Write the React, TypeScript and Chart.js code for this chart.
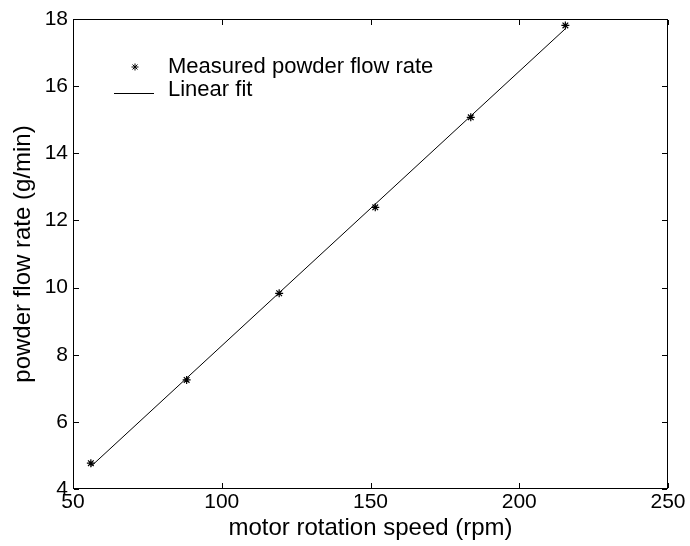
import React, { useEffect, useRef } from "react";
import { Chart, registerables } from "chart.js";

Chart.register(...registerables);

const speedRpm = [56, 88.2, 119.3, 151.6, 183.7, 215.5];
const flowRate = [4.77, 7.25, 9.83, 12.39, 15.07, 17.81];
const fitX = [56, 215.5];
const fitY = [4.67, 17.71];
const xTicks = [50, 100, 150, 200, 250];
const yTicks = [4, 6, 8, 10, 12, 14, 16, 18];
const legendLabels = ["Measured powder flow rate", "Linear fit"];

const FONT = "'Liberation Sans', Arial, Helvetica, sans-serif";

const frameAndTicks = {
  id: "frameAndTicks",
  beforeDatasetsDraw(chart: any) {
    const { ctx, chartArea: a, scales } = chart;
    ctx.save();
    ctx.strokeStyle = "#000";
    ctx.lineWidth = 1;
    ctx.strokeRect(a.left + 0.5, a.top + 0.5, a.right - a.left - 1, a.bottom - a.top - 1);
    const len = 5;
    ctx.beginPath();
    for (const v of xTicks) {
      const px = Math.round(scales.x.getPixelForValue(v)) + 0.5;
      ctx.moveTo(px, a.bottom - 1);
      ctx.lineTo(px, a.bottom - 1 - len);
      ctx.moveTo(px, a.top + 1);
      ctx.lineTo(px, a.top + 1 + len);
    }
    for (const v of yTicks) {
      const py = Math.round(scales.y.getPixelForValue(v)) + 0.5;
      ctx.moveTo(a.left + 1, py);
      ctx.lineTo(a.left + 1 + len, py);
      ctx.moveTo(a.right - 1, py);
      ctx.lineTo(a.right - 1 - len, py);
    }
    ctx.stroke();
    ctx.restore();
  },
};

const insideLegend = {
  id: "insideLegend",
  afterDraw(chart: any) {
    const { ctx, chartArea: a } = chart;
    ctx.save();
    ctx.strokeStyle = "#000";
    ctx.lineWidth = 1;
    const sx = a.left + 62;
    const sy = a.top + 48;
    const r = 3.5;
    ctx.beginPath();
    ctx.moveTo(sx - r, sy);
    ctx.lineTo(sx + r, sy);
    ctx.moveTo(sx, sy - r);
    ctx.lineTo(sx, sy + r);
    const d = r * Math.SQRT1_2;
    ctx.moveTo(sx - d, sy - d);
    ctx.lineTo(sx + d, sy + d);
    ctx.moveTo(sx - d, sy + d);
    ctx.lineTo(sx + d, sy - d);
    ctx.stroke();
    const ly = Math.round(a.top + 73.5) + 0.5;
    ctx.beginPath();
    ctx.moveTo(a.left + 41, ly);
    ctx.lineTo(a.left + 81, ly);
    ctx.stroke();
    ctx.fillStyle = "#000";
    ctx.font = `22px ${FONT}`;
    ctx.textBaseline = "middle";
    ctx.textAlign = "left";
    ctx.fillText(legendLabels[0], a.left + 95, a.top + 48);
    ctx.fillText(legendLabels[1], a.left + 95, a.top + 71);
    ctx.restore();
  },
};

export default function App() {
  const ref = useRef<HTMLCanvasElement | null>(null);
  useEffect(() => {
    if (!ref.current) return;
    const chart = new Chart(ref.current, {
      type: "scatter",
      data: {
        datasets: [
          {
            label: legendLabels[0],
            data: speedRpm.map((x, i) => ({ x, y: flowRate[i] })),
            pointStyle: "star",
            radius: 4,
            borderColor: "#000",
            backgroundColor: "#000",
            borderWidth: 1.2,
            showLine: false,
          },
          {
            label: legendLabels[1],
            data: fitX.map((x, i) => ({ x, y: fitY[i] })),
            showLine: true,
            borderColor: "#000",
            borderWidth: 1,
            pointRadius: 0,
            fill: false,
          },
        ],
      },
      options: {
        responsive: false,
        animation: false,
        layout: { padding: { top: 19, right: 22, left: 0, bottom: 0 } },
        plugins: {
          legend: { display: false },
          tooltip: { enabled: false },
        },
        scales: {
          x: {
            type: "linear",
            min: 50,
            max: 250,
            afterBuildTicks: (s: any) => {
              s.ticks = xTicks.map((v) => ({ value: v }));
            },
            afterFit: (s: any) => {
              s.height = 57;
            },
            grid: { display: false, drawTicks: false },
            border: { display: false },
            ticks: {
              color: "#000",
              font: { family: FONT, size: 21 },
              padding: 1,
              maxRotation: 0,
              autoSkip: false,
            },
            title: {
              display: true,
              text: "motor rotation speed (rpm)",
              color: "#000",
              font: { family: FONT, size: 24 },
              padding: { top: 0, bottom: 3 },
            },
          },
          y: {
            type: "linear",
            min: 4,
            max: 18,
            afterBuildTicks: (s: any) => {
              s.ticks = yTicks.map((v) => ({ value: v }));
            },
            afterFit: (s: any) => {
              s.width = 73;
            },
            grid: { display: false, drawTicks: false },
            border: { display: false },
            ticks: {
              color: "#000",
              font: { family: FONT, size: 21 },
              padding: 5,
              autoSkip: false,
            },
            title: {
              display: true,
              text: "powder flow rate (g/min)",
              color: "#000",
              font: { family: FONT, size: 24 },
              padding: { top: 9, bottom: 0 },
            },
          },
        },
      },
      plugins: [frameAndTicks, insideLegend],
    });
    return () => chart.destroy();
  }, []);
  return (
    <div style={{ position: "fixed", left: 0, top: 0, width: 690, height: 546, background: "#fff" }}>
      <canvas ref={ref} width={690} height={546} style={{ display: "block" }} />
    </div>
  );
}
